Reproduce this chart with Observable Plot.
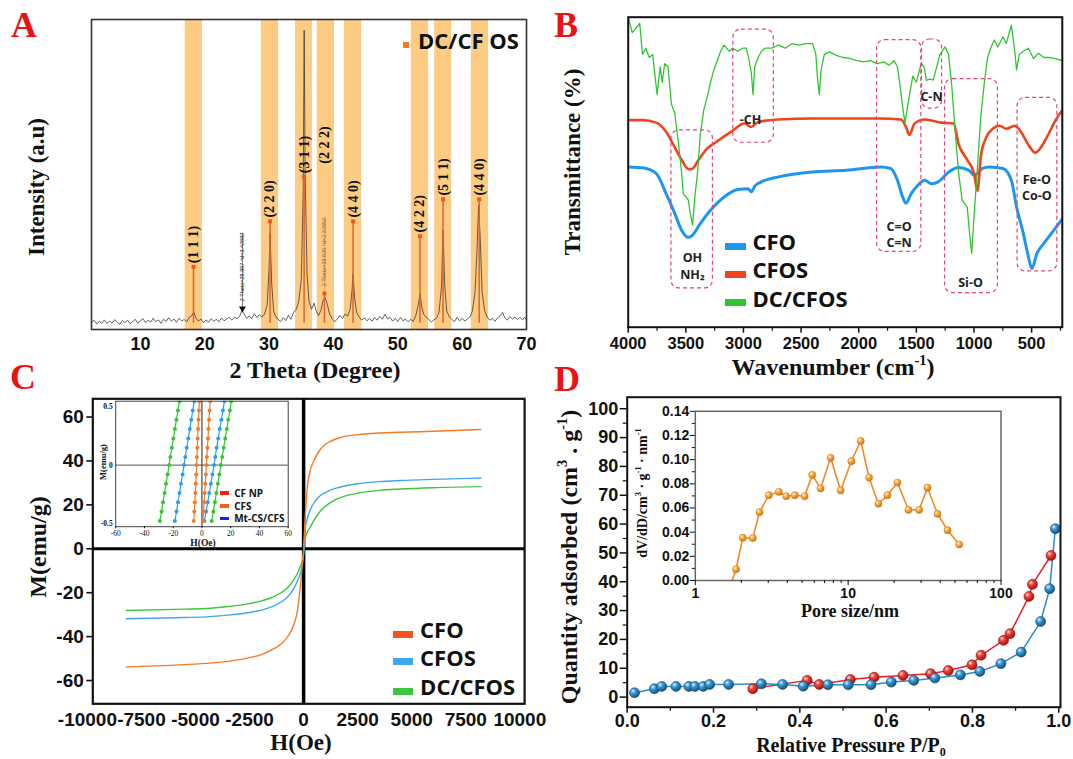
<!DOCTYPE html>
<html><head><meta charset="utf-8">
<script src="https://cdn.jsdelivr.net/npm/d3@7"></script>
<script src="https://cdn.jsdelivr.net/npm/@observablehq/plot@0.6"></script>
<style>
body{margin:0;background:#fff;}
#wrap{position:relative;width:1073px;height:759px;overflow:hidden;background:#fff;}
.pan{position:absolute;line-height:0;}
.pan svg{overflow:visible;}
.ttl{position:absolute;font-family:"Liberation Serif","Times New Roman",serif;font-weight:bold;color:#111;white-space:nowrap;line-height:1;transform:translate(-50%,-50%);}
.ttl.rot{transform:translate(-50%,-50%) rotate(-90deg);}
.ttl sup{font-size:0.6em;vertical-align:0.7em;line-height:0;}
.ttl sub{font-size:0.6em;vertical-align:-0.3em;line-height:0;}
.letter{position:absolute;font-family:"Liberation Serif","Times New Roman",serif;font-weight:bold;color:#ee1111;font-size:36px;line-height:1;}
.leg{position:absolute;font-family:"Open Sans",sans-serif;font-weight:bold;color:#111;white-space:nowrap;line-height:1;transform:translateY(-50%);}
.sw{position:absolute;}
</style></head><body>
<svg width="0" height="0" style="position:absolute">
<defs>
<radialGradient id="gRed" cx="35%" cy="32%" r="70%"><stop offset="0%" stop-color="#ffe0d8"/><stop offset="35%" stop-color="#f0463a"/><stop offset="100%" stop-color="#a80c0c"/></radialGradient>
<radialGradient id="gBlue" cx="35%" cy="32%" r="70%"><stop offset="0%" stop-color="#e0f4ff"/><stop offset="35%" stop-color="#3d9ad6"/><stop offset="100%" stop-color="#12507a"/></radialGradient>
<radialGradient id="gOrange" cx="35%" cy="32%" r="70%"><stop offset="0%" stop-color="#fff6e0"/><stop offset="40%" stop-color="#f8ae48"/><stop offset="100%" stop-color="#d0700e"/></radialGradient>
</defs></svg>
<div id="wrap"></div>
<script>
// ---------- Panel A: XRD ----------
const aTicks = [10, 20, 30, 40, 50, 60, 70];
const bandStart = [16.96, 28.8, 34.1, 37.48, 41.7, 52.1, 55.74, 61.42];
const bandEnd = [19.64, 31.48, 36.73, 40.16, 44.39, 54.78, 58.37, 64.1];
const peakTheta = [18.25, 30.14, 35.44, 38.6, 43.05, 53.44, 57.03, 62.65];
const peakIntensity = [20.2, 34.9, 49.2, 11.6, 34.9, 30.1, 42, 42];
const peakLabels = ["(1 1 1)", "(2 2 0)", "(3 1 1)", "(2 2 2)", "(4 4 0)", "(4 2 2)", "(5 1 1)", "(4 4 0)"];
const annTheta = [25.857, 38.635];
const annIntensity = [6.8, 11.6];
const annTop = [31, 36.3];
const annText = ["2 Theta=25.857 °d=3.42882", "2 Theta=38.635 °d=2.32852"];
const xrdTrace = [[2.4,2.2],[2.8,3.0],[3.2,1.8],[3.6,2.6],[4.0,2.0],[4.4,3.1],[4.8,1.9],[5.2,2.7],[5.6,2.1],[6.0,3.2],[6.4,2.3],[6.8,1.7],[7.2,2.9],[7.6,2.2],[8.0,3.0],[8.4,1.9],[8.8,2.5],[9.2,3.3],[9.6,2.0],[10.0,2.8],[10.4,3.5],[10.8,2.2],[11.2,3.0],[11.6,2.4],[12.0,3.6],[12.4,2.5],[12.8,3.1],[13.2,2.0],[13.6,3.3],[14.0,2.6],[14.4,3.8],[14.8,2.7],[15.2,3.4],[15.6,2.3],[16.0,3.6],[16.4,2.8],[16.8,3.2],[17.2,2.5],[17.6,3.9],[18.0,4.5],[18.3,5.6],[18.6,3.8],[19.0,2.7],[19.4,3.4],[19.8,2.2],[20.2,3.1],[20.6,2.4],[21.0,3.5],[21.4,2.6],[21.8,3.3],[22.2,2.5],[22.6,3.7],[23.0,2.8],[23.4,3.4],[23.8,3.9],[24.2,3.0],[24.6,4.0],[25.0,3.5],[25.4,4.2],[25.8,6.2],[26.1,5.0],[26.5,3.6],[26.9,4.4],[27.3,3.5],[27.7,5.1],[28.1,3.9],[28.5,4.8],[28.9,4.0],[29.3,5.0],[29.7,8],[30.0,20],[30.15,31],[30.4,15],[30.7,6],[31.0,4.3],[31.4,3.2],[31.8,2.6],[32.2,3.8],[32.6,2.9],[33.0,4.6],[33.4,3.3],[33.8,5.5],[34.2,6.5],[34.6,9],[35.0,16],[35.3,45],[35.45,96.5],[35.6,50],[35.9,18],[36.2,9],[36.6,6.5],[37.0,8.5],[37.3,6],[37.7,4.5],[38.1,6.5],[38.4,9.5],[38.7,10.3],[39.0,8.5],[39.4,5],[39.8,3.5],[40.2,2.5],[40.6,3.4],[41.0,4.5],[41.4,3.6],[41.8,5.0],[42.2,4.3],[42.6,6.5],[42.9,13],[43.05,18],[43.3,10],[43.6,5.5],[44.0,4.0],[44.4,3.0],[44.8,3.8],[45.2,2.8],[45.6,3.6],[46.0,2.7],[46.4,3.9],[46.8,3.0],[47.2,4.2],[47.6,3.3],[48.0,4.9],[48.4,3.4],[48.8,3.9],[49.2,2.7],[49.6,3.6],[50.0,2.6],[50.4,3.9],[50.8,2.8],[51.2,3.4],[51.6,2.5],[52.0,3.3],[52.4,2.6],[52.8,4.5],[53.2,8],[53.44,11.5],[53.7,7.5],[54.0,5],[54.4,4.0],[54.8,3.3],[55.2,2.4],[55.6,3.1],[56.0,3.6],[56.4,5.5],[56.8,14],[57.03,32],[57.3,14],[57.6,6],[58.0,4.1],[58.4,3.3],[58.8,2.5],[59.2,3.9],[59.6,2.8],[60.0,3.6],[60.4,2.7],[60.8,3.4],[61.2,4.0],[61.6,6],[62.0,12],[62.3,25],[62.55,40],[62.8,30],[63.1,12],[63.5,6],[63.9,4.0],[64.3,3.0],[64.7,3.6],[65.1,2.6],[65.5,3.8],[65.9,4.4],[66.3,5.5],[66.6,3.8],[67.0,3.0],[67.4,4.2],[67.8,3.4],[68.2,4.0],[68.6,3.2],[69.0,3.9],[69.4,3.1],[69.7,4.0],[70.0,3.0]];

// ---------- Panel B: FTIR ----------
const bTicks = [4000, 3500, 3000, 2500, 2000, 1500, 1000, 500];
const bMinorTicks = [3750, 3250, 2750, 2250, 1750, 1250, 750, 250];
const ftirCFO = [[4000,51.7],[3876,51.4],[3758,49.6],[3670,43],[3596,36.7],[3537,31.3],[3478,29],[3448,29.5],[3375,33.4],[3286,37.7],[3168,42],[3050,44.4],[2961,44.7],[2932,43.7],[2900,45.6],[2844,46.9],[2696,48.5],[2401,50.1],[2106,50.6],[1811,51.7],[1723,51.2],[1664,47.4],[1619,42],[1590,40],[1546,43],[1487,45.8],[1428,47.4],[1369,46.3],[1310,46.9],[1221,50],[1133,51.5],[1044,50.6],[1000,49],[926,51.2],[867,51.7],[749,51.2],[676,47.4],[631,38.8],[572,30.2],[528,22.7],[498,18.9],[454,23.8],[395,27],[307,31.3],[234,35]];
const ftirCFOS = [[4000,66.8],[3876,66.8],[3758,66],[3670,63],[3596,58],[3537,54],[3478,51],[3448,51],[3389,54],[3316,57.6],[3227,60],[3109,63],[2991,65.7],[2932,64.6],[2873,66.2],[2696,67],[2401,67.3],[1811,67.3],[1634,67],[1590,64.6],[1560,62],[1516,65.7],[1428,67],[1280,66],[1177,65.7],[1133,59],[1059,54],[1000,49.6],[970,44],[941,55],[897,61],[838,64],[779,65],[720,64],[646,65],[602,63.5],[513,58],[470,56.3],[440,57],[366,61.4],[292,66.8],[234,70]];
const ftirDCCFOS = [[4000,100],[3965,95],[3920,97],[3900,98],[3876,88],[3847,90],[3817,87],[3788,88],[3749,75],[3723,84],[3705,79],[3684,85],[3655,84],[3625,72],[3596,69],[3566,60],[3537,50],[3522,43],[3498,42],[3478,41],[3463,37],[3442,33],[3419,43],[3398,50],[3375,62],[3345,70],[3316,74],[3286,79],[3257,83],[3227,86],[3198,89],[3168,91],[3124,89],[3094,90],[3050,89],[3006,90],[2976,90],[2956,87],[2932,82],[2917,75],[2902,84],[2873,87],[2844,89],[2814,90],[2755,90],[2696,91],[2637,90],[2578,91.5],[2519,91],[2460,91.5],[2401,91.5],[2372,88],[2357,80],[2342,75],[2327,83],[2298,88],[2254,88.8],[2195,87.7],[2136,87],[2077,86.7],[2018,86],[1959,85.6],[1900,86],[1841,85],[1782,85.6],[1737,84.5],[1693,86],[1664,84],[1640,77.5],[1619,71],[1599,66],[1581,70],[1560,75],[1531,81],[1501,79],[1480,82],[1457,85],[1433,84],[1413,79.6],[1383,80],[1354,79.7],[1324,84],[1295,88],[1251,90.4],[1221,88],[1192,77.5],[1162,62.5],[1133,49.6],[1103,41],[1059,38.8],[1038,30],[1020,23.8],[1000,35.6],[970,51.7],[941,68],[911,78.6],[882,87],[852,90.4],[823,92.6],[793,90.4],[749,93.7],[720,91.5],[676,97.4],[646,89],[631,83],[607,88],[572,89],[528,90],[484,86.7],[440,88.4],[395,87],[351,87],[307,86.7],[234,86]];
const boxWnFrom = [3625, 3088, 1841, 1451, 1251, 622];
const boxWnTo = [3265, 2737, 1457, 1277, 793, 277];
const boxTop = [63.5, 96, 92.6, 92.8, 80, 74];
const boxBottom = [12.5, 59.5, 24.3, 70.5, 11, 18];
const bandNames = ["-CH", "C-N", "OH", "NH₂", "C=O", "C=N", "Si-O", "Fe-O", "Co-O"];
const bandNameWn = [2938, 1369, 3443, 3443, 1650, 1650, 1030, 455, 455];
const bandNameT = [67, 74.3, 22.2, 17.0, 32.3, 27.1, 14.1, 47.4, 42.3];

// ---------- Panel C: VSM ----------
const cTicksX = [-10000, -7500, -5000, -2500, 0, 2500, 5000, 7500, 10000];
const cTicksY = [-60, -40, -20, 0, 20, 40, 60];
const fieldH = [-8200,-6000,-4500,-3500,-2500,-1900,-1500,-1000,-700,-450,-300,-150,-60,0,60,150,300,450,700,1000,1500,1900,2500,3500,4500,6000,8200];
const magCFO = [-53.8,-53.0,-52.2,-51.3,-49.6,-48.0,-46.2,-43.0,-39.5,-34.5,-29.0,-17.0,-7.0,0,12,26,35.5,39.5,44.3,47.5,50.0,51.2,52.0,52.7,53.1,53.5,54.3];
const magCFOS = [-31.9,-31.4,-31.0,-30.2,-29.0,-27.8,-26.5,-24.0,-21.5,-18.0,-15.0,-11.0,-7.0,-2,8,13,17.5,20.5,23.6,25.6,27.6,28.6,29.6,30.6,31.1,31.6,32.2];
const magDCCFOS = [-28.1,-27.6,-27.2,-26.3,-25.0,-23.6,-22.3,-19.8,-17.3,-14.0,-11.5,-8.0,-5.5,-2,4,7,9.8,12.5,16.3,19.3,22.5,24.0,25.3,26.6,27.2,27.8,28.3];
const insetTicksX = [-60, -40, -20, 0, 20, 40, 60];
const insetTicksY = [-0.5, 0, 0.5];
const insetM = [0.55,0.47,0.39,0.31,0.23,0.15,0.07,0.0,-0.08,-0.16,-0.24,-0.32,-0.40,-0.48];
const greenLeftH = [-15.6,-16.7,-17.8,-18.8,-19.9,-20.9,-22.0,-22.8,-23.9,-25.0,-26.0,-27.1,-28.1,-29.3];
const greenRightH = [20.4,19.4,18.3,17.3,16.2,15.1,14.1,13.2,12.1,11.1,10.0,9.0,7.9,6.8];
const blueLeftH = [-5.3,-6.4,-7.4,-8.5,-9.5,-10.6,-11.6,-12.5,-13.5,-14.6,-15.6,-16.7,-17.7,-18.8];
const blueRightH = [15.6,14.6,13.5,12.4,11.3,10.2,9.3,8.4,7.3,6.2,5.1,4.0,2.9,1.7];
const orangeLeftH = [-1.8,-2.1,-2.4,-2.7,-3.0,-3.2,-3.5,-3.7,-4.0,-4.3,-4.6,-5.0,-5.3,-5.7];
const orangeRightH = [5.7,5.3,4.9,4.5,4.2,3.8,3.4,3.1,2.7,2.3,1.9,1.5,1.1,0.7];

// ---------- Panel D: BET ----------
const dTicksX = [0, 0.2, 0.4, 0.6, 0.8, 1.0];
const dMinorX = [0.1, 0.3, 0.5, 0.7, 0.9];
const dTicksY = [0, 10, 20, 30, 40, 50, 60, 70, 80, 90, 100];
const dMinorY = [5, 15, 25, 35, 45, 55, 65, 75, 85, 95];
const redP = [0.291,0.417,0.445,0.517,0.572,0.639,0.703,0.744,0.799,0.820,0.872,0.887,0.931,0.939,0.982];
const redQ = [2.9,5.8,4.4,6.1,6.9,7.5,8.1,9.2,11.2,14.5,19.7,22.0,34.9,39.1,49.1];
const blueP = [0.017,0.063,0.080,0.113,0.143,0.157,0.176,0.191,0.235,0.311,0.360,0.408,0.465,0.512,0.565,0.612,0.664,0.713,0.772,0.817,0.866,0.913,0.958,0.979,0.992];
const blueQ = [1.5,2.9,3.7,3.7,3.7,3.7,3.7,4.4,4.4,4.6,4.4,3.8,4.3,4.3,4.3,5.2,5.8,6.6,7.7,8.9,11.6,15.6,26.2,37.6,58.4];
const poreTicksX = [1, 10, 100];
const poreMinorX = [2,3,4,5,6,7,8,9,20,30,40,50,60,70,80,90];
const poreTicksY = [0, 0.02, 0.04, 0.06, 0.08, 0.10, 0.12, 0.14];
const poreMinorY = [0.01, 0.03, 0.05, 0.07, 0.09, 0.11, 0.13];
const poreD = [1.70,1.848,2.044,2.377,2.63,3.027,3.52,3.93,4.48,5.19,5.82,6.60,7.68,8.93,10.49,12.08,13.70,15.77,18.06,21.01,24.8,29.14,33.04,38.44,44.7,53.3];
const poreV = [-0.004,0.0093,0.0354,0.0351,0.0565,0.0706,0.0734,0.0697,0.0706,0.0697,0.0874,0.0762,0.1015,0.0745,0.0987,0.1155,0.0852,0.0635,0.0706,0.081,0.0585,0.0585,0.0768,0.0551,0.0416,0.0298];

// ---------- helpers ----------
const wrap = document.getElementById("wrap");
const sans = "'Liberation Sans', Arial, sans-serif";
const serif = "'Liberation Serif', 'Times New Roman', serif";
const base = {background: "transparent", color: "#111", fontFamily: sans, overflow: "visible"};
function mount(node, left, top) {
  const d = document.createElement("div");
  d.className = "pan"; d.style.left = left + "px"; d.style.top = top + "px";
  d.appendChild(node); wrap.appendChild(d);
}
function html(cls, inner, left, top, size, extra) {
  const d = document.createElement("div");
  d.className = cls; d.innerHTML = inner;
  d.style.left = left + "px"; d.style.top = top + "px";
  if (size) d.style.fontSize = size + "px";
  if (extra) Object.assign(d.style, extra);
  wrap.appendChild(d); return d;
}
function swatch(left, top, w, h, color) {
  html("sw", "", left, top, null, {width: w + "px", height: h + "px", background: color});
}
const fmt = d => String(d);
const blank = () => "";
const minor = {fill: "none", tickFormat: blank, label: null};

// ---------- Panel A ----------
const bands = bandStart.map((s, i) => ({s, e: bandEnd[i]}));
const peaks = peakTheta.map((t, i) => ({t, v: peakIntensity[i], label: peakLabels[i], i}));
const anns = annTheta.map((t, i) => ({t, v: annIntensity[i], top: annTop[i], text: annText[i], i}));
const labelRise = 1.2;
mount(Plot.plot({
  width: 540, height: 380, marginLeft: 91, marginRight: 14, marginTop: 19, marginBottom: 51,
  style: base,
  x: {domain: [2.4, 70], label: null},
  y: {domain: [0, 100], axis: null, label: null},
  marks: [
    Plot.rect(bands, {x1: "s", x2: "e", y1: 0, y2: 100, fill: "#fdcb82"}),
    Plot.line(xrdTrace, {x: d => d[0], y: d => d[1], stroke: "#3a3a3a", strokeWidth: 0.8, clip: true}),
    Plot.ruleX(peaks, {x: "t", y1: 2, y2: "v", stroke: "#e2622a", strokeWidth: 1.5}),
    Plot.ruleX(anns, {x: "t", y1: "v", y2: "top", stroke: d => d.i ? "#d07a40" : "#222", strokeWidth: 0.6}),
    Plot.dot(peaks, {x: "t", y: "v", symbol: "square", r: 2.2, fill: "#f0561a"}),
    Plot.dot(anns.slice(0, 1), {x: "t", y: "v", symbol: "triangle", rotate: 180, r: 2.6, fill: "#111"}),
    Plot.text(anns, {x: "t", y: d => d.v + 1.2, text: "text", rotate: -90, textAnchor: "start", dy: -3.5, fontSize: 5.5, fill: d => d.i ? "#a0603a" : "#222"}),
    Plot.text(peaks, {x: "t", y: d => d.label === "(2 2 2)" ? peakIntensity[2] + 4.3 : d.v + labelRise, text: "label", rotate: -90, textAnchor: "start", fontSize: 14, fontWeight: "bold", fontFamily: serif}),
    Plot.frame({stroke: "#333", strokeWidth: 1.6}),
    Plot.axisX(aTicks, {tickSize: 0, tickPadding: 8, fontSize: 18, fontWeight: "bold", tickFormat: fmt, label: null})
  ]
}), 0, 0);
html("ttl rot", "Intensity (a.u)", 36, 187, 23);
html("ttl", "2 Theta (Degree)", 315, 370, 24);
html("letter", "A", 11, 7);
swatch(403, 42, 6, 6, "#f47a20");
html("leg", "DC/CF OS", 418, 40, 22);

// ---------- Panel B ----------
const boxes = boxWnFrom.map((f, i) => ({f, t: boxWnTo[i], top: boxTop[i], bottom: boxBottom[i]}));
const bLabels = bandNames.map((n, i) => ({n, w: bandNameWn[i], v: bandNameT[i]}));
mount(Plot.plot({
  width: 533, height: 380, marginLeft: 87.7, marginRight: 11.2, marginTop: 16.7, marginBottom: 53.3,
  style: base,
  x: {domain: [4000, 234], label: null},
  y: {domain: [0, 100], axis: null, label: null},
  marks: [
    Plot.line(ftirCFO, {x: d => d[0], y: d => d[1], stroke: "#1e96f0", strokeWidth: 3, curve: "monotone-x", clip: true}),
    Plot.line(ftirCFOS, {x: d => d[0], y: d => d[1], stroke: "#f0441c", strokeWidth: 2.6, curve: "monotone-x", clip: true}),
    Plot.line(ftirDCCFOS, {x: d => d[0], y: d => d[1], stroke: "#30c530", strokeWidth: 1.3, clip: true}),
    Plot.rect(boxes, {x1: "f", x2: "t", y1: "bottom", y2: "top", rx: 8, fill: "none", stroke: "#e2457c", strokeWidth: 1.2, strokeDasharray: "4,3"}),
    Plot.text(bLabels, {x: "w", y: "v", text: "n", fontSize: 12.5, fontWeight: "bold", fontFamily: "'Open Sans', sans-serif", fill: "#222", lineHeight: 1}),
    Plot.frame({stroke: "#111", strokeWidth: 2}),
    Plot.axisX(bTicks, {tickSize: 6, tickPadding: 4, fontSize: 16.5, fontWeight: "bold", tickFormat: fmt, label: null, strokeWidth: 1.5}),
    Plot.axisX(bMinorTicks, {tickSize: 4, strokeWidth: 1.2, ...minor})
  ]
}), 540, 0);
html("ttl rot", "Transmittance (%)", 572, 162, 23);
html("ttl", "Wavenumber (cm<sup>-1</sup>)", 833, 367, 24);
html("letter", "B", 554, 7);
[["CFO", "#1e96f0", 240.7, 246], ["CFOS", "#f0441c", 269.3, 274], ["DC/CFOS", "#30c530", 297.7, 302.7]].forEach(([t, c, ty, sy]) => {
  swatch(725.2, sy - 3.5, 20.4, 7, c);
  html("leg", t, 752.4, ty, 22);
});

// ---------- Panel C ----------
const curve = (vals) => fieldH.map((h, i) => ({h, m: vals[i]}));
mount(Plot.plot({
  width: 540, height: 379, marginLeft: 92.3, marginRight: 15.9, marginTop: 18.3, marginBottom: 55.7,
  style: base,
  x: {domain: [-9750, 10220], label: null},
  y: {domain: [-70.6, 68.3], label: null},
  marks: [
    Plot.ruleX([0], {stroke: "#000", strokeWidth: 3.5}),
    Plot.ruleY([0], {stroke: "#000", strokeWidth: 3}),
    Plot.line(curve(magDCCFOS), {x: "h", y: "m", stroke: "#3cc63c", strokeWidth: 1.4, curve: "monotone-x"}),
    Plot.line(curve(magCFOS), {x: "h", y: "m", stroke: "#3fa6f2", strokeWidth: 1.4, curve: "monotone-x"}),
    Plot.line(curve(magCFO), {x: "h", y: "m", stroke: "#f57a26", strokeWidth: 1.4, curve: "monotone-x"}),
    Plot.frame({stroke: "#111", strokeWidth: 2.2}),
    Plot.axisY(cTicksY, {tickSize: 6, tickPadding: 3, fontSize: 19, fontWeight: "bold", tickFormat: fmt, label: null, strokeWidth: 1.6}),
    Plot.axisX(cTicksX, {tickSize: 0, tickPadding: 9, fontSize: 19, fontWeight: "bold", tickFormat: fmt, label: null})
  ]
}), 0, 380);
html("ttl rot", "M(emu/g)", 38, 547, 24);
html("ttl", "H(Oe)", 301, 742, 23);
html("letter", "C", 10, 359);
[["CFO", "#f4521e", 629.3, 634], ["CFOS", "#3fa6f2", 657, 661.7], ["DC/CFOS", "#3cc63c", 686.3, 691]].forEach(([t, c, ty, sy]) => {
  swatch(392.6, sy - 3.5, 20.6, 7, c);
  html("leg", t, 420.1, ty, 22);
});

// inset C
const branch = (hs, color) => insetM.map((m, i) => ({h: hs[i], m, color}));
const branches = [
  branch(greenLeftH, "#33c533"), branch(greenRightH, "#33c533"),
  branch(blueLeftH, "#2f9cf0"), branch(blueRightH, "#2f9cf0"),
  branch(orangeLeftH, "#f57a22"), branch(orangeRightH, "#f57a22")
];
mount(Plot.plot({
  width: 220, height: 165, marginLeft: 35.2, marginRight: 12.3, marginTop: 10.7, marginBottom: 28.8,
  style: base,
  x: {domain: [-60, 60], label: null},
  y: {domain: [-0.53, 0.55], label: null},
  marks: [
    Plot.frame({fill: "#fff"}),
    Plot.ruleY([0], {stroke: "#555", strokeWidth: 1}),
    Plot.ruleX([0], {stroke: "#222", strokeWidth: 1}),
    ...branches.map(b => Plot.line(b, {x: "h", y: "m", stroke: "color", strokeWidth: 1.2, clip: true})),
    ...branches.map(b => Plot.dot(b, {x: "h", y: "m", fill: "color", r: 2, clip: true})),
    Plot.frame({stroke: "#444", strokeWidth: 1}),
    Plot.axisY(insetTicksY, {tickSize: 0, tickPadding: 3, fontSize: 7.5, fontWeight: "bold", fontFamily: serif, tickFormat: fmt, label: null}),
    Plot.axisX(insetTicksX, {tickSize: 2, tickPadding: 2, fontSize: 7.5, fontFamily: serif, tickFormat: fmt, label: null})
  ]
}), 80, 390);
html("ttl rot", "M(emu/g)", 103, 462, 8.5);
html("ttl", "H(Oe)", 203, 544, 9.5);
[["CF NP", "#ff1a1a", 492.7], ["CFS", "#ff5a1f", 505.7], ["Mt-CS/CFS", "#1a1aff", 518.3]].forEach(([t, c, y]) => {
  swatch(220.4, y - 1.5, 8.6, 3.5, c);
  html("leg", t, 234.2, y, 10);
});

// ---------- Panel D ----------
const redPts = redP.map((p, i) => ({p, q: redQ[i]}));
const bluePts = blueP.map((p, i) => ({p, q: blueQ[i]}));
mount(Plot.plot({
  width: 533, height: 379, marginLeft: 86.7, marginRight: 13, marginTop: 16.7, marginBottom: 52.3,
  style: base,
  x: {domain: [0, 1.004], label: null},
  y: {domain: [-3.5, 104], label: null},
  marks: [
    Plot.line(redPts, {x: "p", y: "q", stroke: "#e8202a", strokeWidth: 1.5}),
    Plot.line(bluePts, {x: "p", y: "q", stroke: "#2d8bc9", strokeWidth: 1.5}),
    Plot.dot(redPts, {x: "p", y: "q", r: 5, fill: "url(#gRed)", stroke: "#8a1010", strokeWidth: 0.6}),
    Plot.dot(bluePts, {x: "p", y: "q", r: 5, fill: "url(#gBlue)", stroke: "#164a70", strokeWidth: 0.6}),
    Plot.frame({stroke: "#111", strokeWidth: 2}),
    Plot.axisY(dTicksY, {tickSize: 7, tickPadding: 2, fontSize: 18, fontWeight: "bold", tickFormat: fmt, label: null, strokeWidth: 1.5}),
    Plot.axisY(dMinorY, {tickSize: 4, strokeWidth: 1.2, ...minor}),
    Plot.axisX(dTicksX, {tickSize: 6, tickPadding: 1, fontSize: 18, fontWeight: "bold", tickFormat: d3.format(".1f"), label: null, strokeWidth: 1.5}),
    Plot.axisX(dMinorX, {tickSize: 4, strokeWidth: 1.2, ...minor})
  ]
}), 540, 380);
html("ttl rot", "Quantity adsorbed (cm<sup>3</sup> . g<sup>-1</sup>)", 569, 557, 24);
html("ttl", "Relative Pressure P/P<sub>0</sub>", 851, 745, 20);
html("letter", "D", 554, 361);

// inset D
const pores = poreD.map((d, i) => ({d, v: poreV[i]}));
mount(Plot.plot({
  width: 400, height: 225, marginLeft: 64.8, marginRight: 29.5, marginTop: 10.8, marginBottom: 45,
  style: base,
  x: {type: "log", domain: [1, 100], label: null},
  y: {domain: [0, 0.14], label: null},
  marks: [
    Plot.line(pores, {x: "d", y: "v", stroke: "#f08a24", strokeWidth: 1.6, clip: true}),
    Plot.dot(pores, {x: "d", y: "v", r: 3.6, fill: "url(#gOrange)", stroke: "#d07a1a", strokeWidth: 0.5, clip: true}),
    Plot.frame({stroke: "#666", strokeWidth: 1.5}),
    Plot.axisY(poreTicksY, {tickSize: 5, tickPadding: 1, fontSize: 14, fontWeight: "bold", tickFormat: d3.format(".2f"), label: null}),
    Plot.axisY(poreMinorY, {tickSize: 3, ...minor}),
    Plot.axisX(poreTicksX, {tickSize: 5, tickPadding: 3, fontSize: 14, fontWeight: "bold", tickFormat: fmt, label: null}),
    Plot.axisX(poreMinorX, {tickSize: 3, ...minor})
  ]
}), 630, 400);
html("ttl", "Pore size/nm", 850, 611, 18);
html("ttl rot", "dV/dD/cm<sup>3</sup> · g<sup>-1</sup> · nm<sup>-1</sup>", 643, 493, 14);
</script></body></html>
